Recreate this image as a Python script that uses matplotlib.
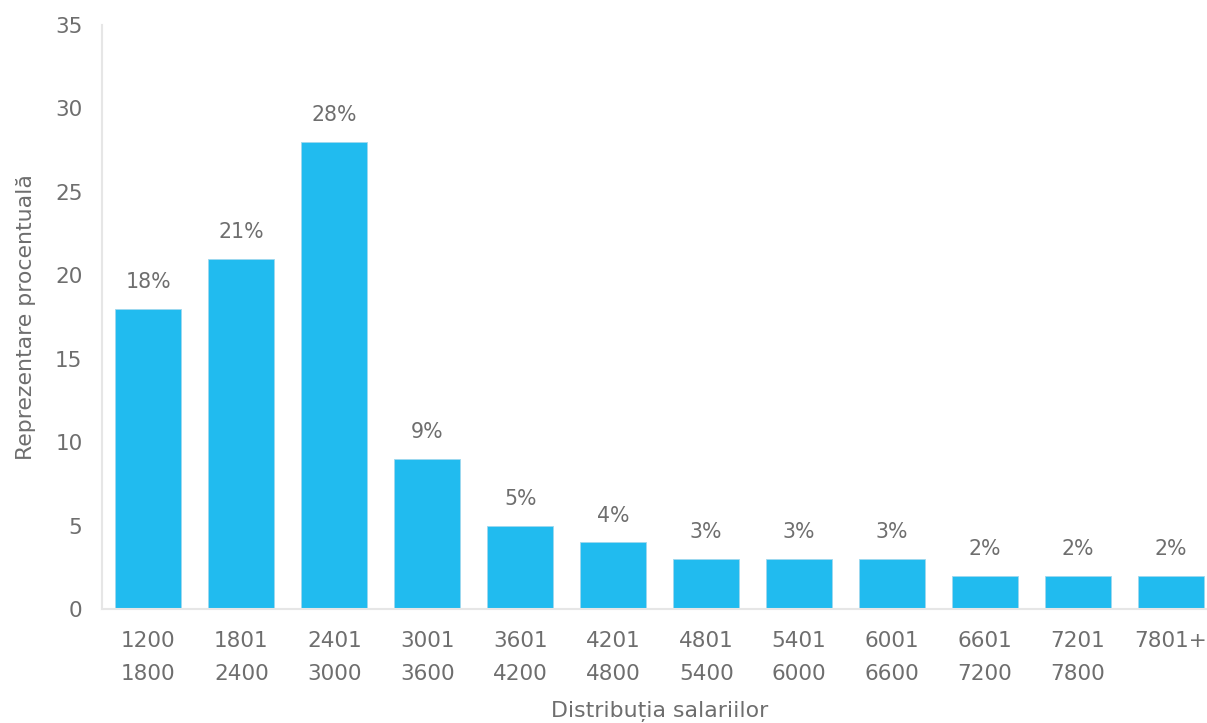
import matplotlib
matplotlib.use("Agg")
import matplotlib.pyplot as plt

plt.rcParams["font.family"] = ["DejaVu Sans"]

categories = ["1200\n1800", "1801\n2400", "2401\n3000", "3001\n3600", "3601\n4200",
              "4201\n4800", "4801\n5400", "5401\n6000", "6001\n6600", "6601\n7200",
              "7201\n7800", "7801+"]
values = [18, 21, 28, 9, 5, 4, 3, 3, 3, 2, 2, 2]
yticks = [0, 5, 10, 15, 20, 25, 30, 35]

text_color = "#6e6e6e"
bar_color = "#21BBEF"

fig = plt.figure(figsize=(12.07, 7.23), dpi=100)
ax = fig.add_axes([102/1207, 114/723, (1217.5-102)/1207, (609-25)/723])

x = list(range(len(categories)))
ax.bar(x, values, width=0.71, color=bar_color, edgecolor="#9fd8ee", linewidth=0.6)

for xi, v in zip(x, values):
    ax.annotate(f"{v}%", (xi, v), xytext=(0, 12), textcoords="offset points",
                ha="center", va="bottom", fontsize=14.8, color=text_color)

ax.set_xlim(-0.5, len(categories) - 0.5)
ax.set_ylim(0, 35)
ax.set_yticks(yticks)
ax.set_xticks(x)
ax.set_xticklabels(categories, fontsize=15.5, color=text_color, linespacing=1.8,
                   va="top")
ax.tick_params(axis="y", length=0, pad=14, labelsize=15.5, labelcolor=text_color)
ax.tick_params(axis="x", length=0, pad=16)

for s in ["top", "right"]:
    ax.spines[s].set_visible(False)
for s in ["left", "bottom"]:
    ax.spines[s].set_color("#e6e6e6")
    ax.spines[s].set_linewidth(1.5)

ax.set_ylabel("Reprezentare procentuală", fontsize=15.8, color=text_color, labelpad=14)
ax.set_xlabel("Distribuția salariilor", fontsize=15.8, color=text_color, labelpad=12)

fig.savefig("out.png", dpi=100)
